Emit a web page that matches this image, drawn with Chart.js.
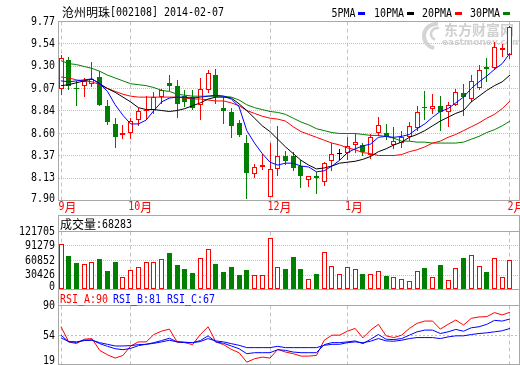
<!DOCTYPE html>
<html>
<head>
<meta charset="utf-8">
<script src="https://cdn.jsdelivr.net/npm/chart.js@4.4.0/dist/chart.umd.min.js"></script>
<style>
  body { margin: 0; background: #fff; }
  #wrap { position: relative; width: 520px; height: 365px; overflow: hidden; background: #fff; }
  canvas { position: absolute; left: 0; }
</style>
</head>
<body>
<div id="wrap">
  <canvas id="kline" width="520" height="216" style="top:0"></canvas>
  <canvas id="vol" width="520" height="75" style="top:215px"></canvas>
  <canvas id="rsi" width="520" height="76" style="top:289px"></canvas>
</div>
<script>
// ---- data ----
const months = ['9月', '10月', '12月', '1月', '2月'];
const monthIdx = [0, 9, 27, 37, 58];

const opens  = [9.06, 9.37, 9.08, 9.10, 9.12, 9.19, 8.89, 8.70, 8.58, 8.61, 8.74, 8.83, 8.85, 8.98, 9.13, 9.10, 8.99, 8.98, 8.90, 9.05,
                9.21, 8.87, 8.82, 8.71, 8.50, 8.18, 8.25, 7.94, 8.23, 8.36, 8.36, 8.26, 8.11, 8.16, 8.09, 8.31, 8.39, 8.40, 8.48, 8.48,
                8.38, 8.60, 8.61, 8.48, 8.50, 8.56, 8.66, 8.88, 8.86, 8.89, 8.82, 8.90, 9.02, 8.96, 9.08, 9.29, 9.28, 9.47, 9.42];
const highs  = [9.42, 9.40, 9.15, 9.18, 9.35, 9.25, 8.95, 8.76, 8.69, 8.76, 8.87, 8.99, 9.03, 9.07, 9.21, 9.16, 9.05, 9.05, 9.18, 9.26,
                9.27, 8.98, 8.87, 8.74, 8.58, 8.28, 8.39, 8.50, 8.68, 8.42, 8.41, 8.32, 8.16, 8.20, 8.30, 8.50, 8.44, 8.56, 8.60, 8.50,
                8.59, 8.77, 8.70, 8.67, 8.63, 8.72, 8.89, 9.04, 9.01, 8.99, 8.93, 9.07, 9.12, 9.21, 9.32, 9.39, 9.56, 9.54, 9.72];
const lows   = [9.00, 9.05, 8.89, 8.98, 9.09, 8.89, 8.69, 8.45, 8.54, 8.54, 8.68, 8.74, 8.80, 8.91, 9.04, 8.76, 8.88, 8.85, 8.74, 9.02,
                8.91, 8.70, 8.55, 8.56, 7.92, 8.14, 8.22, 7.94, 8.16, 8.27, 8.21, 8.03, 8.04, 7.97, 8.05, 8.21, 8.32, 8.32, 8.40, 8.36,
                8.33, 8.57, 8.53, 8.44, 8.45, 8.52, 8.63, 8.74, 8.80, 8.63, 8.67, 8.89, 8.78, 8.93, 9.05, 9.14, 9.26, 9.40, 9.38];
const closes = [9.39, 9.10, 9.07, 9.15, 9.17, 8.90, 8.72, 8.56, 8.60, 8.73, 8.83, 8.85, 8.98, 9.05, 9.10, 8.91, 8.93, 8.87, 9.06, 9.23,
                8.98, 8.84, 8.68, 8.58, 8.19, 8.25, 8.27, 8.23, 8.37, 8.31, 8.24, 8.16, 8.16, 8.13, 8.29, 8.39, 8.39, 8.47, 8.51, 8.41,
                8.56, 8.69, 8.56, 8.52, 8.56, 8.68, 8.82, 8.87, 8.89, 8.82, 8.90, 9.03, 8.98, 9.15, 9.26, 9.27, 9.50, 9.49, 9.71];

const ma5  = [9.15, 9.14, 9.15, 9.16, 9.17, 9.12, 9.04, 8.90, 8.79, 8.70, 8.70, 8.74, 8.84, 8.93, 8.97, 8.98, 8.98, 8.97, 8.98, 8.99,
              9.00, 8.99, 8.96, 8.88, 8.63, 8.50, 8.39, 8.30, 8.27, 8.29, 8.29, 8.26, 8.25, 8.20, 8.21, 8.26, 8.32, 8.40, 8.44, 8.47,
              8.49, 8.56, 8.57, 8.56, 8.57, 8.59, 8.65, 8.70, 8.77, 8.83, 8.86, 8.92, 8.98, 9.07, 9.14, 9.20, 9.27, 9.33, 9.44];
const ma10 = [9.10, 9.11, 9.13, 9.15, 9.17, 9.12, 9.07, 9.03, 8.98, 8.93, 8.87, 8.85, 8.85, 8.84, 8.83, 8.84, 8.86, 8.89, 8.92, 8.96,
              8.98, 8.98, 8.97, 8.91, 8.84, 8.76, 8.68, 8.62, 8.54, 8.46, 8.39, 8.32, 8.27, 8.23, 8.24, 8.26, 8.29, 8.30, 8.31, 8.33,
              8.36, 8.41, 8.44, 8.48, 8.51, 8.56, 8.59, 8.63, 8.68, 8.73, 8.77, 8.81, 8.84, 8.93, 8.99, 9.05, 9.10, 9.14, 9.21];
const ma20 = [9.19, 9.18, 9.16, 9.15, 9.14, 9.11, 9.07, 9.04, 9.01, 8.99, 8.98, 8.98, 8.98, 8.98, 8.98, 8.98, 8.97, 8.96, 8.96, 8.95,
              8.94, 8.94, 8.92, 8.89, 8.84, 8.81, 8.78, 8.76, 8.75, 8.73, 8.67, 8.62, 8.59, 8.56, 8.53, 8.50, 8.48, 8.45, 8.43, 8.40,
              8.39, 8.37, 8.37, 8.37, 8.38, 8.41, 8.43, 8.46, 8.50, 8.52, 8.56, 8.59, 8.63, 8.67, 8.71, 8.76, 8.80, 8.86, 8.94];
const ma30 = [9.36, 9.33, 9.32, 9.30, 9.28, 9.25, 9.21, 9.18, 9.15, 9.12, 9.11, 9.10, 9.08, 9.05, 9.04, 9.01, 9.00, 8.99, 8.99, 8.99,
              8.99, 8.99, 8.98, 8.95, 8.90, 8.87, 8.85, 8.83, 8.82, 8.80, 8.76, 8.72, 8.69, 8.65, 8.63, 8.61, 8.60, 8.60, 8.60, 8.59,
              8.58, 8.58, 8.57, 8.55, 8.52, 8.52, 8.51, 8.51, 8.50, 8.50, 8.50, 8.50, 8.51, 8.54, 8.57, 8.61, 8.64, 8.68, 8.73];

const volumes = [95500, 70100, 55900, 54500, 57300, 63700, 38200, 57300, 26900, 41700, 48100, 57300, 57300, 63000, 76400, 50900,
                 42500, 34000, 65100, 84200, 53100, 36100, 46700, 29700, 40300, 31100, 29700, 107600, 47400, 42500, 67200, 42500,
                 22600, 31800, 77800, 50200, 31800, 48100, 43900, 31800, 31800, 39600, 27600, 25500, 22600, 17000, 39600, 44600,
                 26900, 50900, 19100, 46000, 65800, 71500, 50200, 36100, 65100, 26900, 60900];

const rsiA = [64.4, 46.2, 44.1, 49.4, 50.2, 36.0, 30.7, 26.7, 29.9, 41.3, 46.2, 46.2, 55.1, 59.2, 61.6, 46.2, 45.3, 42.9, 55.1, 64.4,
              46.2, 42.9, 37.2, 33.2, 21.8, 25.9, 27.9, 26.7, 37.2, 34.0, 32.0, 29.1, 29.1, 29.9, 48.2, 54.3, 54.3, 59.1, 62.4, 51.0,
              60.4, 67.3, 53.5, 51.4, 54.3, 62.4, 68.5, 71.3, 71.3, 61.6, 67.3, 72.5, 66.5, 74.6, 76.2, 76.6, 81.5, 78.6, 81.9];
const rsiB = [54.3, 46.2, 45.7, 48.2, 48.6, 44.1, 40.9, 38.0, 36.8, 38.4, 41.7, 43.3, 45.3, 47.8, 50.6, 46.2, 45.7, 45.3, 47.8, 53.5,
              46.2, 44.5, 41.3, 38.0, 32.0, 33.2, 33.2, 33.2, 36.8, 36.0, 34.0, 33.2, 33.2, 33.2, 42.9, 45.3, 45.3, 46.2, 47.4, 44.1,
              49.4, 55.1, 49.4, 49.0, 50.2, 54.3, 58.3, 60.4, 60.4, 56.3, 58.3, 61.2, 59.1, 63.2, 64.4, 67.3, 72.1, 71.3, 73.8];
const rsiC = [51.0, 46.6, 46.2, 47.8, 48.2, 45.3, 43.3, 41.3, 41.3, 41.7, 42.9, 43.3, 44.5, 46.2, 48.2, 46.2, 45.7, 45.3, 46.6, 50.2,
              47.4, 46.2, 44.1, 42.1, 39.3, 39.3, 39.3, 39.3, 40.9, 39.3, 39.3, 39.3, 39.3, 39.3, 42.1, 43.3, 43.3, 45.3, 46.2, 45.3,
              47.0, 50.2, 47.4, 47.0, 48.2, 50.2, 51.4, 51.4, 51.4, 50.2, 52.2, 53.5, 53.5, 55.1, 56.3, 57.1, 58.3, 59.6, 62.4];

const priceTicks  = [7.90, 8.13375, 8.3675, 8.60125, 8.835, 9.06875, 9.3025, 9.53625, 9.77];
const priceLabels = ['7.90', '8.13', '8.37', '8.60', '8.84', '9.07', '9.30', '9.54', '9.77'];
const volTicks  = [0, 30426, 60852, 91279, 121705];
const rsiTicks  = [19, 54, 90];

// ---- look ----
const RED = '#ff0000', GREEN = '#008000', BLUE = '#0000ff';
const FRAME = '#a8a8a8';
const xMin = -0.323, xMax = 59.23;

const ASCII_FONT = '12px "DejaVu Sans Mono"';
const CJK_FONT = '12px "Noto Sans CJK SC"';
const SQ = 0.83;

function runs(s) {
  const r = [];
  for (const ch of s) {
    const c = ch.charCodeAt(0) > 0x2e80;
    if (r.length && r[r.length - 1].c === c) r[r.length - 1].t += ch;
    else r.push({ t: ch, c: c });
  }
  return r;
}
function textWidth(ctx, s) {
  let w = 0;
  for (const r of runs(s)) {
    ctx.font = r.c ? CJK_FONT : ASCII_FONT;
    w += ctx.measureText(r.t).width * (r.c ? 1 : SQ);
  }
  return w;
}
function drawText(ctx, s, x, y, color, align) {
  ctx.save();
  ctx.fillStyle = color;
  ctx.textBaseline = 'middle';
  ctx.textAlign = 'left';
  let cx = align === 'right' ? x - textWidth(ctx, s) : x;
  for (const r of runs(s)) {
    ctx.font = r.c ? CJK_FONT : ASCII_FONT;
    const w = ctx.measureText(r.t).width;
    if (r.c) { ctx.fillText(r.t, cx, y); cx += w; }
    else {
      ctx.save(); ctx.translate(cx, y); ctx.scale(SQ, 1); ctx.fillText(r.t, 0, 0); ctx.restore();
      cx += w * SQ;
    }
  }
  ctx.restore();
}

function xAxis() {
  return {
    type: 'linear', min: xMin, max: xMax, offset: false,
    afterBuildTicks: s => { s.ticks = monthIdx.map(v => ({ value: v })); },
    ticks: { display: false },
    grid: { color: '#c4c4c4', drawTicks: false, offset: false },
    border: { display: false, dash: [4, 3] }
  };
}
function yAxis(min, max, ticks, dash, color) {
  return {
    type: 'linear', min: min, max: max, beginAtZero: false,
    afterBuildTicks: s => { s.ticks = ticks.map(v => ({ value: v })); },
    ticks: { display: false },
    grid: { color: color, drawTicks: false },
    border: { display: false, dash: dash }
  };
}
function frame(ctx, a, titleTop) {
  ctx.save();
  ctx.strokeStyle = FRAME;
  ctx.lineWidth = 1;
  ctx.strokeRect(a.left, a.top, a.right - a.left, a.bottom - a.top);
  if (titleTop !== undefined) ctx.strokeRect(a.left, titleTop, a.right - a.left, a.top - titleTop);
  ctx.restore();
}
function yLabels(chart, ticks, labels, limit) {
  const ys = chart.scales.y;
  ticks.forEach((v, k) => {
    const y = Math.min(ys.getPixelForValue(v), limit);
    drawText(chart.ctx, labels[k], 55, y, '#000', 'right');
  });
}
// snap the bar elements the scales placed onto whole pixels, so the thin outlines stay sharp
const snapBars = {
  id: 'snapBars',
  beforeDatasetsDraw(chart) {
    chart.data.datasets.forEach((ds, di) => {
      const meta = chart.getDatasetMeta(di);
      if (meta.type !== 'bar') return;
      meta.data.forEach(el => {
        el.x = Math.floor(el.x) + 0.5;
        let top = Math.round(Math.min(el.y, el.base));
        let bot = Math.round(Math.max(el.y, el.base));
        if (bot <= top) bot = top + 1;
        if (el.y <= el.base) { el.y = top; el.base = bot; } else { el.y = bot; el.base = top; }
      });
    });
  }
};
const baseOpts = {
  responsive: false, maintainAspectRatio: false, animation: false, events: [],
  devicePixelRatio: 1,
  plugins: { legend: { display: false }, tooltip: { enabled: false } }
};

// ---- candle colours ----
const dir = closes.map((c, i) => c > opens[i] ? 1 : (c < opens[i] ? -1 : 0));
const bodyFill = dir.map(d => d > 0 ? '#ffffff' : (d < 0 ? GREEN : '#000000'));
const lineCol  = dir.map(d => d > 0 ? RED : (d < 0 ? GREEN : '#000000'));

// ---- main K-line ----
const mainDeco = {
  id: 'mainDeco',
  beforeDatasetsDraw(chart) {
    const ctx = chart.ctx;
    ctx.save();
    ctx.strokeStyle = '#d4d4d4';
    ctx.lineWidth = 4;
    ctx.beginPath(); ctx.arc(436, 36, 12, Math.PI * 0.55, Math.PI * 1.55); ctx.stroke();
    ctx.lineWidth = 2.5;
    ctx.beginPath(); ctx.arc(437, 34, 6, Math.PI * 0.6, Math.PI * 1.6); ctx.stroke();
    ctx.fillStyle = '#d0d0d0';
    ctx.textBaseline = 'middle';
    ctx.font = 'bold 14px "Noto Sans CJK SC"';
    ctx.fillText('东方财富网', 444, 30);
    ctx.font = 'bold 9px "DejaVu Sans"';
    ctx.fillText('eastmoney.com', 442, 43);
    ctx.restore();
  },
  afterDraw(chart) {
    const ctx = chart.ctx, a = chart.chartArea, xs = chart.scales.x;
    frame(ctx, a);
    yLabels(chart, priceTicks, priceLabels, a.bottom - 2);
    monthIdx.forEach((v, k) => drawText(ctx, months[k], xs.getPixelForValue(v) - 2.5, 207, RED));
    drawText(ctx, '沧州明珠[002108] 2014-02-07', 62, 12.5, '#000');
    const legend = [['5PMA', 331.5, 358, BLUE], ['10PMA', 374, 407, '#000'], ['20PMA', 422, 455, RED], ['30PMA', 470, 503, GREEN]];
    legend.forEach(l => {
      drawText(ctx, l[0], l[1], 13.5, '#000');
      ctx.fillStyle = l[3];
      ctx.fillRect(l[2], 12, 7, 3);
    });
  }
};

function maLine(arr, color) {
  return { type: 'line', data: arr.map((v, i) => ({ x: i, y: v })), borderColor: color, borderWidth: 1,
           pointRadius: 0, tension: 0, fill: false, order: 0 };
}

new Chart(document.getElementById('kline'), {
  type: 'bar',
  data: {
    datasets: [
      maLine(ma5, BLUE), maLine(ma10, '#000000'), maLine(ma20, RED), maLine(ma30, GREEN),
      {
        data: opens.map((o, i) => ({ x: i, y: dir[i] === 0 ? [o - 0.005, o + 0.005] : [o, closes[i]] })),
        backgroundColor: bodyFill, borderColor: lineCol,
        borderWidth: dir.map(d => d === 0 ? 0 : 1),
        barThickness: 5, grouped: false, borderSkipped: false, inflateAmount: 0, order: 1
      },
      {
        data: lows.map((l, i) => ({ x: i, y: [l, highs[i]] })),
        backgroundColor: lineCol, borderWidth: 0,
        barThickness: 1, grouped: false, borderSkipped: false, inflateAmount: 0, order: 2
      }
    ]
  },
  options: Object.assign({}, baseOpts, {
    layout: { padding: { left: 58.5, top: 21.5, right: 0.5, bottom: 15.5 } },
    scales: { x: xAxis(), y: yAxis(7.90, 9.77, priceTicks, [1, 1], '#c0c0c0') }
  }),
  plugins: [snapBars, mainDeco]
});

// ---- volume ----
const volDeco = {
  id: 'volDeco',
  afterDraw(chart) {
    const ctx = chart.ctx, a = chart.chartArea;
    frame(ctx, a, 0.5);
    yLabels(chart, volTicks, volTicks.map(String), a.bottom - 3);
    drawText(ctx, '成交量:68283', 60, 9.5, '#000');
  }
};
new Chart(document.getElementById('vol'), {
  type: 'bar',
  data: {
    datasets: [{
      data: volumes.map((v, i) => ({ x: i, y: v })),
      backgroundColor: dir.map(d => d >= 0 ? '#ffffff' : GREEN),
      borderColor: dir.map(d => d >= 0 ? RED : GREEN),
      borderWidth: 1, barThickness: 5, grouped: false, borderSkipped: false, inflateAmount: 0
    }]
  },
  options: Object.assign({}, baseOpts, {
    layout: { padding: { left: 58.5, top: 16.5, right: 0.5, bottom: 0.5 } },
    scales: { x: xAxis(), y: yAxis(0, 121705, volTicks, [1, 1], '#c0c0c0') }
  }),
  plugins: [snapBars, volDeco]
});

// ---- RSI ----
const rsiDeco = {
  id: 'rsiDeco',
  afterDraw(chart) {
    const ctx = chart.ctx, a = chart.chartArea;
    frame(ctx, a, 0.5);
    yLabels(chart, rsiTicks, rsiTicks.map(String), 71.5);
    drawText(ctx, 'RSI_A:90', 60, 11, RED);
    drawText(ctx, 'RSI_B:81', 113, 11, BLUE);
    drawText(ctx, 'RSI_C:67', 167, 11, BLUE);
  }
};
function rsiLine(arr, color) {
  return { data: arr.map((v, i) => ({ x: i, y: v })), borderColor: color, borderWidth: 1, pointRadius: 0, tension: 0, fill: false };
}
new Chart(document.getElementById('rsi'), {
  type: 'line',
  data: { datasets: [rsiLine(rsiC, BLUE), rsiLine(rsiB, BLUE), rsiLine(rsiA, RED)] },
  options: Object.assign({}, baseOpts, {
    layout: { padding: { left: 58.5, top: 16.5, right: 0.5, bottom: 0.5 } },
    scales: { x: xAxis(), y: yAxis(19, 90, rsiTicks, [2, 2], '#c0c0c0') }
  }),
  plugins: [rsiDeco]
});
</script>
</body>
</html>
